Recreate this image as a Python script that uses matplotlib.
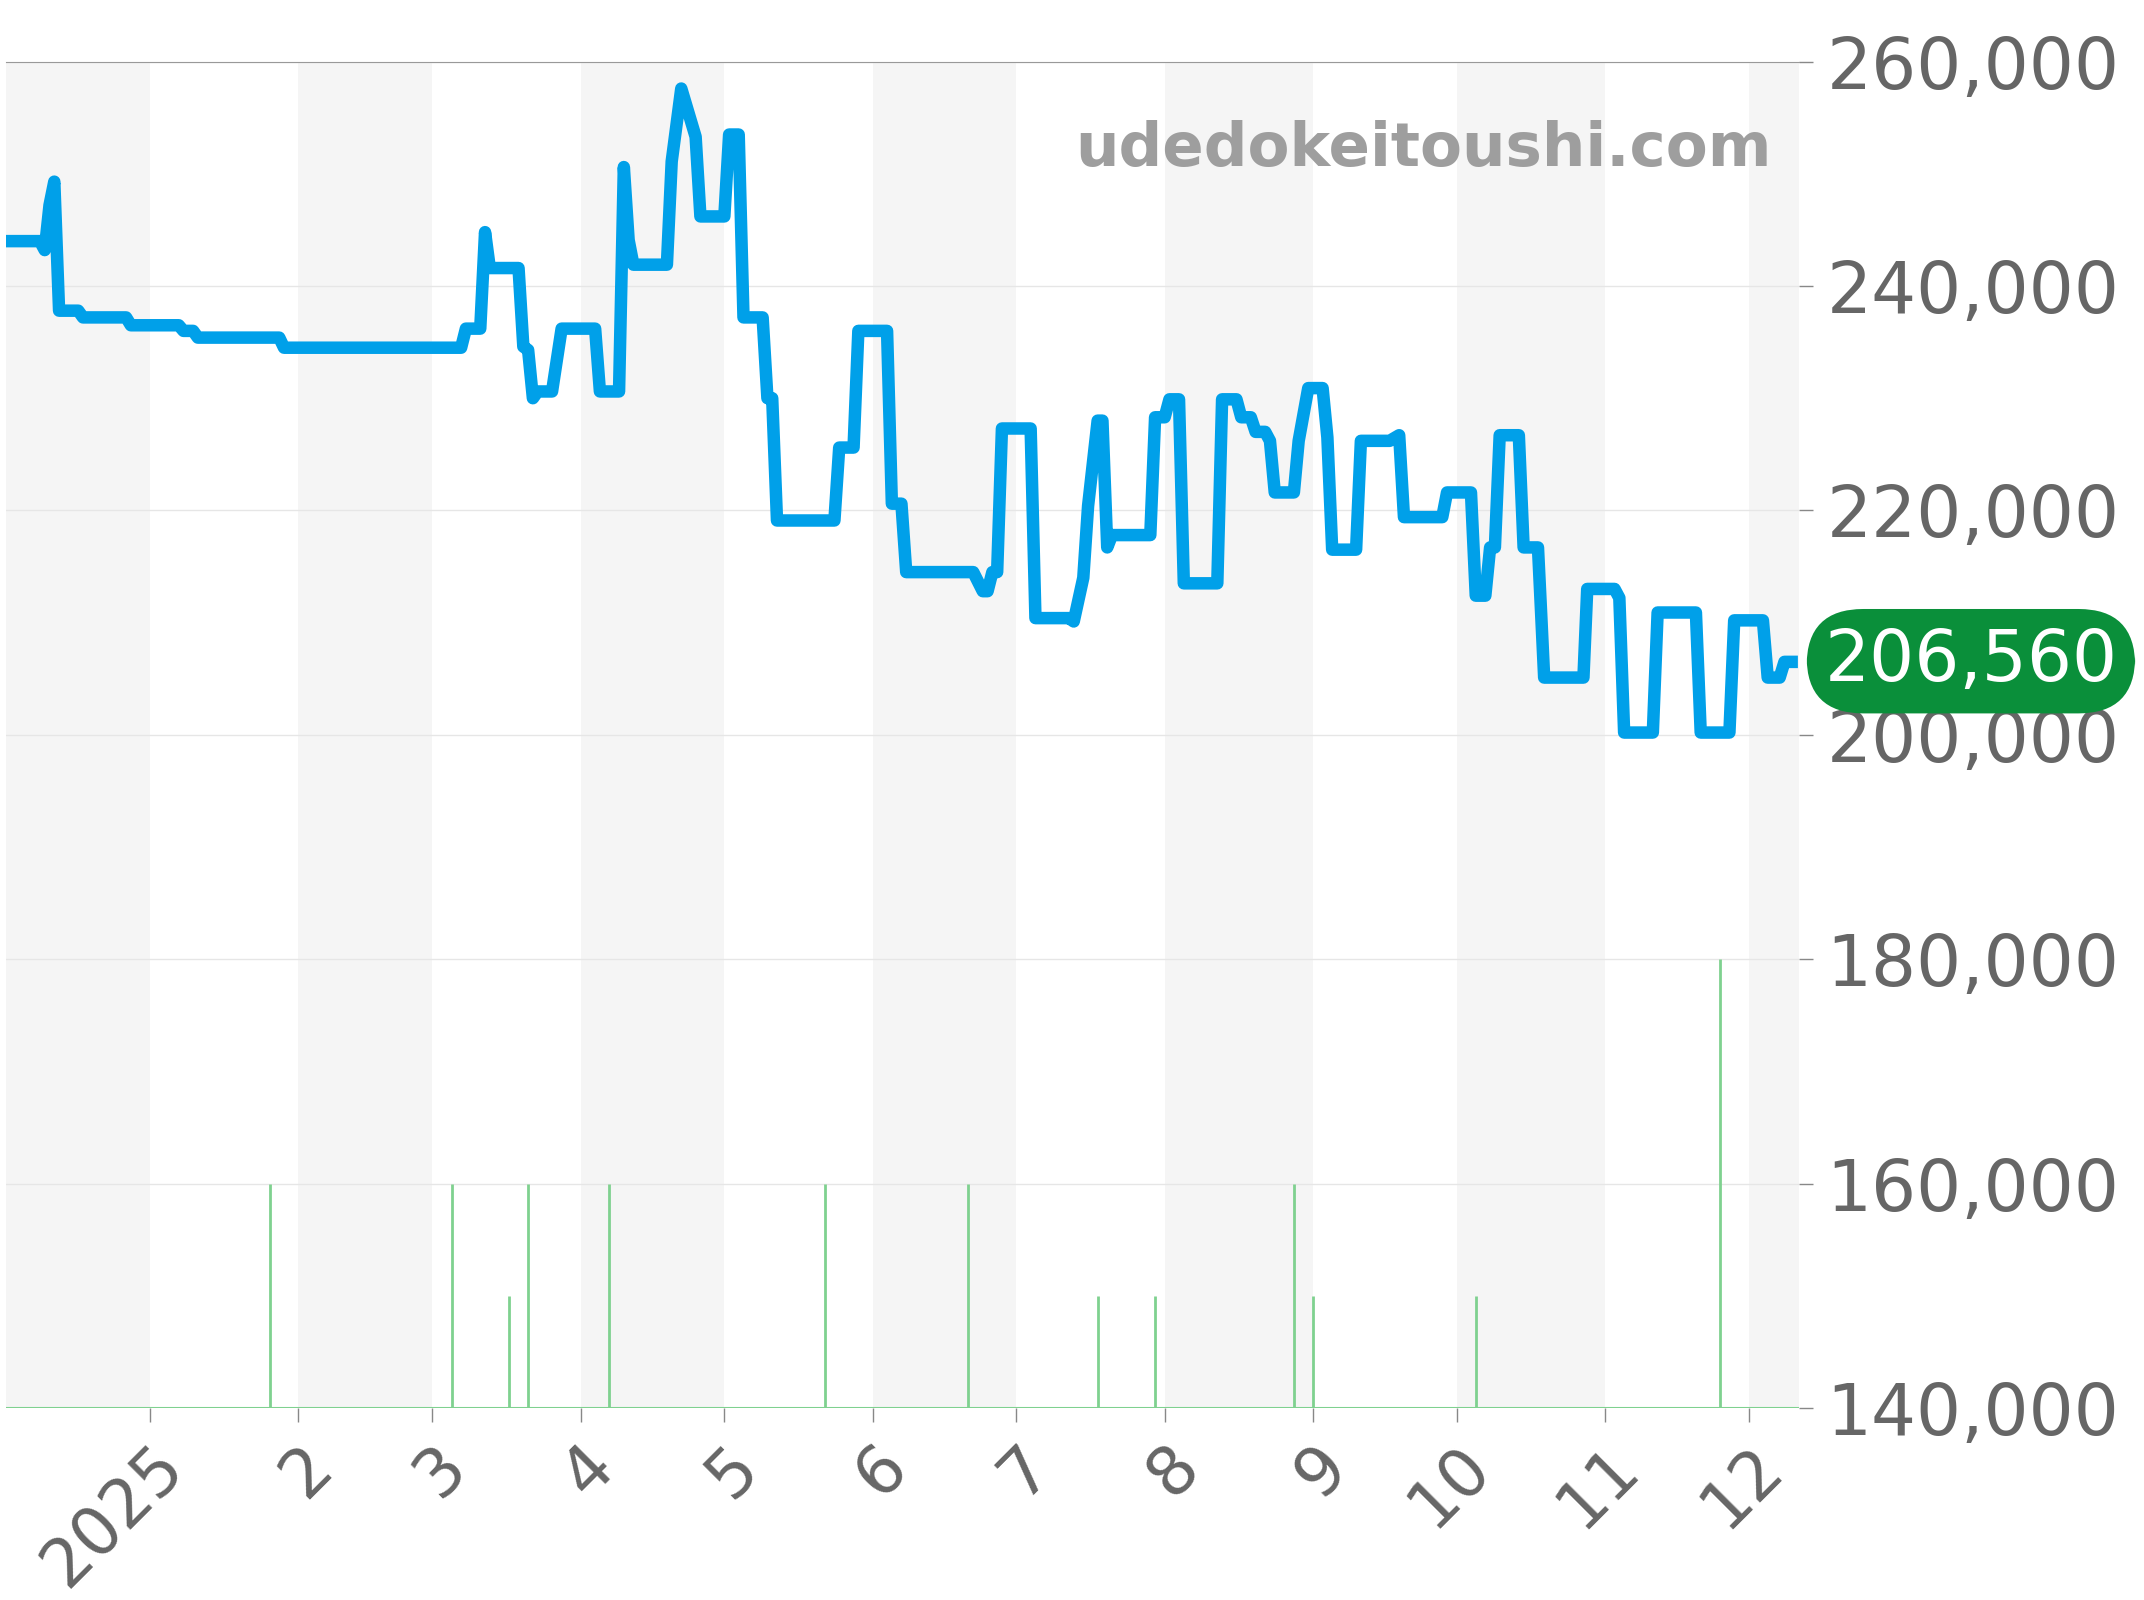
import matplotlib
matplotlib.use("Agg")
import matplotlib.pyplot as plt
import numpy as np
import datetime as dt

base = dt.date(2025, 1, 1)
# days since 2025-01-01
price_days = [-30,-23,-22,-21,-20,-19,-15,-14,-5,-4,6,7,9,10,27,28,65,66,69,70,71,77,78,79,80,81,84,86,93,94,98,99,100,101,108,109,111,114,115,120,121,123,124,128,129,130,131,143,144,147,148,154,155,157,158,172,174,175,176,177,178,184,185,192,193,195,196,198,199,200,201,209,210,212,213,215,216,223,224,227,228,230,231,233,234,235,239,240,242,245,246,247,252,253,259,261,262,270,271,276,277,279,280,281,282,286,287,290,290.7,291.3,299.5,300.3,306,307,308,314,315,323,324,330,331,337,338,340.5,341.5,343]
price_vals = [244000,244000,243200,247200,249300,237800,237800,237200,237200,236500,236500,236000,236000,235400,235400,234500,234500,236200,236200,244800,241600,241600,234600,234300,230000,230600,230600,236200,236200,230600,230600,250600,244100,241900,241900,251100,257600,253300,246200,246200,253500,253500,237200,237200,230000,230000,219100,219100,225600,225600,236000,236000,220600,220600,214500,214500,212800,212800,214500,214500,227300,227300,210400,210400,210100,214000,220400,228000,228000,216700,217800,217800,228300,228300,229900,229900,213500,213500,229900,229900,228300,228300,227000,227000,226200,221600,221600,226200,230900,230900,226500,216500,216500,226200,226200,226700,219400,219400,221600,221600,212400,212400,216700,216700,226700,226700,216700,216700,210400,205100,205100,213000,213000,212200,200200,200200,210900,210900,200200,200200,210200,210200,205100,205100,206500,206500]
vol_days = [25,63,75,79,96,141,171,198,210,239,243,277,328]
vol_vals = [160000,160000,150000,160000,160000,160000,160000,150000,150000,160000,150000,150000,180000]
last_price = 206560
yticks = [140000,160000,180000,200000,220000,240000,260000]
month_labels = ["2025","2","3","4","5","6","7","8","9","10","11","12"]

def d(x):
    return np.datetime64(base) + np.timedelta64(int(round(x*24)), 'h')

fig = plt.figure(figsize=(21.44, 16), dpi=100)
ax = fig.add_axes([0.003, 0.120, 0.836, 0.8415])
xmin, xmax = d(-30), d(344.5)
ax.set_xlim(xmin, xmax)
ax.set_ylim(140000, 260000)

month_starts = [np.datetime64(f"2025-{m:02d}-01") for m in range(1, 13)]
edges = [xmin] + month_starts + [xmax]
for i in range(len(edges)-1):
    if i % 2 == 0:
        ax.axvspan(edges[i], edges[i+1], color="#f5f5f5", lw=0, zorder=0)

for y in yticks:
    ax.axhline(y, color="#e6e6e6", lw=1, zorder=1)

ax.vlines([d(x) for x in vol_days], 140000, vol_vals, color="#7fd18f", lw=2, zorder=2)
ax.axhline(140000, color="#7fd18f", lw=1.5, zorder=2)

ax.plot([d(x) for x in price_days], price_vals, color="#00a0e9", lw=9, solid_joinstyle="round", zorder=3)

ax.set_xticks(month_starts)
ax.set_xticklabels(month_labels, rotation=45, ha="right", rotation_mode="anchor", fontsize=48, color="#666666")
ax.yaxis.tick_right()
ax.set_yticks(yticks)
ax.set_yticklabels([f"{v:,}" for v in yticks], fontsize=51, color="#666666")
ax.tick_params(axis="y", length=10, width=1, color="#888888", pad=10)
ax.tick_params(axis="x", length=10, width=1, color="#888888", pad=8)
for s in ["left", "bottom", "right"]:
    ax.spines[s].set_visible(False)
ax.spines["top"].set_color("#999999")

ax.text(0.985, 0.935, "udedokeitoushi.com", transform=ax.transAxes, ha="right", va="center",
        fontsize=44, fontweight="bold", color="#9e9e9e")

ax.text(1.096, last_price, f"{last_price:,}", transform=ax.get_yaxis_transform(), ha="center", va="center",
        fontsize=51, color="white", zorder=10, clip_on=False,
        bbox=dict(boxstyle="round,pad=0.25,rounding_size=0.8", fc="#0a8f3a", ec="none"))

fig.savefig("out.png", dpi=100)
